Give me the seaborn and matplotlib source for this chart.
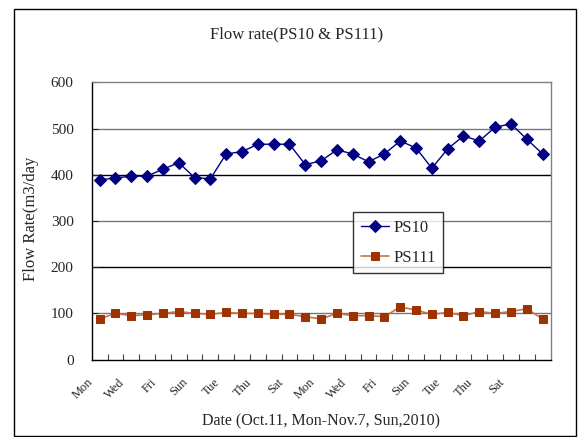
import numpy as np
import pandas as pd
import matplotlib
matplotlib.use("Agg")
import matplotlib.pyplot as plt
import seaborn as sns
from matplotlib.patches import Rectangle
from matplotlib.transforms import ScaledTranslation

# ---- data ----
day_labels = ["Mon", "Wed", "Fri", "Sun", "Tue", "Thu", "Sat",
              "Mon", "Wed", "Fri", "Sun", "Tue", "Thu", "Sat"]
ps10 = [389, 393, 397, 397, 412, 426, 394, 391, 445, 450, 466, 466, 466, 422, 430,
        454, 445, 428, 445, 473, 458, 414, 456, 484, 473, 503, 510, 477, 445]
ps111 = [88, 100, 95, 97, 100, 104, 100, 98, 102, 100, 100, 98, 98, 93, 88,
         100, 95, 95, 93, 114, 107, 98, 102, 95, 104, 100, 104, 110, 88]
title = "Flow rate(PS10 & PS111)"
xlabel = "Date (Oct.11, Mon-Nov.7, Sun,2010)"
ylabel = "Flow Rate(m3/day"
yticks = [0, 100, 200, 300, 400, 500, 600]

sns.set_style("white")
plt.rcParams["font.family"] = ["Liberation Serif", "DejaVu Serif"]

W, H = 581, 437
fig = plt.figure(figsize=(W / 100, H / 100), dpi=100)
L, R, T, B = 91.7, 550.5, 82.3, 359.6
ax = fig.add_axes([L / W, 1 - B / H, (R - L) / W, (B - T) / H])

idx = np.arange(len(ps10))
df = pd.DataFrame({"day": idx, "PS10": ps10, "PS111": ps111})

sns.lineplot(data=df, x="day", y="PS10", ax=ax, color="#000080", lw=1.0,
             marker="D", markersize=6, markerfacecolor="#000080",
             markeredgecolor="#000080", label="PS10")
sns.lineplot(data=df, x="day", y="PS111", ax=ax, color="#c47450", lw=1.2,
             marker="s", markersize=5.2, markerfacecolor="#9c3300",
             markeredgecolor="#9c3300", label="PS111")

ax.set_xlim(-0.5, len(ps10) - 0.5)
ax.set_ylim(0, 600)
ax.set_yticks(yticks)
ax.set_yticklabels([str(v) for v in yticks], fontsize=11)
ax.set_xlabel("")
ax.set_ylabel("")

# gridlines
for v in yticks[1:-1]:
    col = "#000000" if v in (200, 400) else "#777777"
    ax.axhline(v, color=col, lw=1.0, zorder=0.5)

# x ticks: labels every 2 categories, ticks between categories
ax.set_xticks(idx[::2][:len(day_labels)])
ax.set_xticklabels(day_labels, fontsize=9, rotation=45, ha="right", va="top")
ax.set_xticks(np.arange(0.5, len(ps10) - 1, 1.0), minor=True)
ax.tick_params(axis="x", which="major", length=0, pad=12)
ax.tick_params(axis="x", which="minor", direction="in", length=4, width=0.8,
               color="#444444", bottom=True)
ax.tick_params(axis="y", direction="in", length=4, width=0.8, pad=13, left=True)
off = ScaledTranslation(-4 / 100, 0, fig.dpi_scale_trans)
for lab in ax.get_xticklabels():
    lab.set_transform(lab.get_transform() + off)

for s in ["left", "bottom"]:
    ax.spines[s].set_color("#000000")
    ax.spines[s].set_linewidth(1.0)
for s in ["top", "right"]:
    ax.spines[s].set_color("#808080")
    ax.spines[s].set_linewidth(1.0)

leg = ax.legend(loc="upper left", bbox_to_anchor=(353.3 / W, 1 - 212.3 / H),
                bbox_transform=fig.transFigure, borderaxespad=0, fontsize=12,
                frameon=True, fancybox=False, handlelength=1.7,
                handletextpad=0.25, labelspacing=0.85, borderpad=0.45)
leg.get_frame().set_edgecolor("#000000")
leg.get_frame().set_linewidth(1.0)

fig.text(297 / W, 1 - 34 / H, title, ha="center", va="center", fontsize=12)
fig.text(320.8 / W, 1 - 421.5 / H, xlabel, ha="center", va="center", fontsize=11.5)
fig.text(31.3 / W, 1 - 219 / H, ylabel, ha="center", va="center", fontsize=12,
         rotation=90)

fig.patches.append(Rectangle((14 / W, 1 - 436 / H), (576 - 14) / W, (436 - 9) / H,
                             transform=fig.transFigure, fill=False,
                             edgecolor="#000000", lw=1.0))

fig.savefig("out.png", dpi=100)
